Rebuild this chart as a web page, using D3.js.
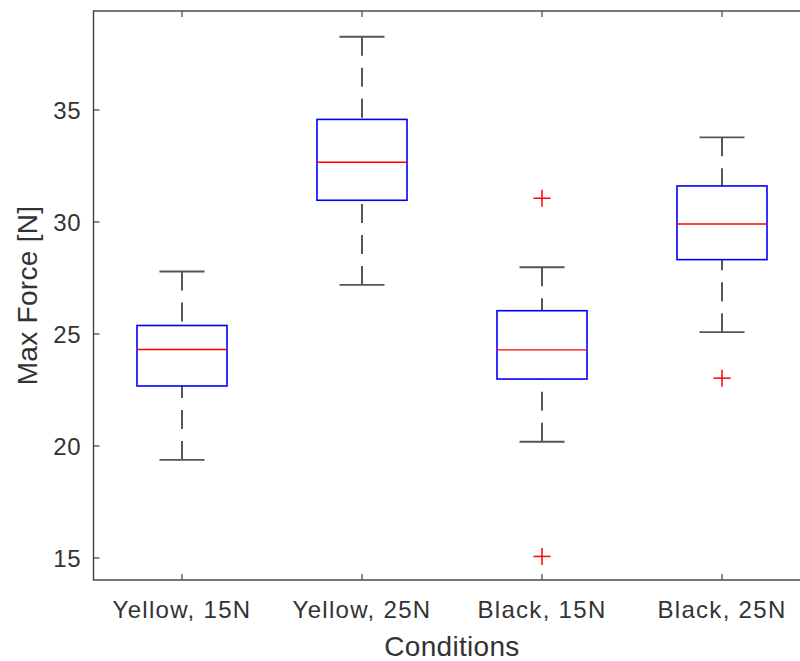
<!DOCTYPE html>
<html>
<head>
<meta charset="utf-8">
<script src="https://cdn.jsdelivr.net/npm/d3@7"></script>
<style>
  html, body { margin: 0; padding: 0; background: #fff; }
  svg { display: block; }
</style>
</head>
<body>
<svg id="chart"></svg>
<script>
// box plot summary per condition
const categories   = ['Yellow, 15N', 'Yellow, 25N', 'Black, 15N', 'Black, 25N'];
const lowerWhisker = [19.38, 27.19, 20.19, 25.08];
const q1           = [22.68, 30.97, 22.99, 28.32];
const median       = [24.31, 32.67, 24.29, 29.91];
const q3           = [25.38, 34.58, 26.04, 31.61];
const upperWhisker = [27.79, 38.27, 27.98, 33.78];
const outliers     = [[], [], [31.06, 15.07], [23.03]];
const yTicks       = [15, 20, 25, 30, 35];

const W = 800, H = 661;
const svg = d3.select('#chart').attr('width', W).attr('height', H);

// axes box (right edge falls outside the picture, like the source)
const x = d3.scaleLinear().domain([0.5, 4.5]).range([92, 812]);
const y = d3.scaleLinear().domain([14.018, 39.42]).range([580, 11]);

const AX = '#404040', TXT = '#333', FONT = 'Helvetica, Arial, "Liberation Sans", sans-serif';

const data = categories.map((c, i) => ({
  i: i + 1, name: c,
  lo: lowerWhisker[i], q1: q1[i], med: median[i], q3: q3[i], hi: upperWhisker[i],
  out: outliers[i],
}));

const boxW = 0.5, capW = 0.25;
const g = svg.append('g');

// whiskers (dashed, starting at the cap)
g.selectAll('line.wu').data(data).join('line').attr('class', 'wu')
  .attr('x1', d => x(d.i)).attr('x2', d => x(d.i))
  .attr('y1', d => y(d.hi)).attr('y2', d => y(d.q3))
  .attr('stroke', '#222').attr('stroke-width', 1.5).attr('stroke-dasharray', '19,12');
g.selectAll('line.wl').data(data).join('line').attr('class', 'wl')
  .attr('x1', d => x(d.i)).attr('x2', d => x(d.i))
  .attr('y1', d => y(d.lo)).attr('y2', d => y(d.q1))
  .attr('stroke', '#222').attr('stroke-width', 1.5).attr('stroke-dasharray', '19,12');

// caps
for (const k of ['hi', 'lo']) {
  g.selectAll('line.cap-' + k).data(data).join('line').attr('class', 'cap-' + k)
    .attr('x1', d => x(d.i - capW / 2)).attr('x2', d => x(d.i + capW / 2))
    .attr('y1', d => y(d[k])).attr('y2', d => y(d[k]))
    .attr('stroke', '#555').attr('stroke-width', 1.8);
}

// boxes
g.selectAll('rect.box').data(data).join('rect').attr('class', 'box')
  .attr('x', d => x(d.i - boxW / 2)).attr('width', d => x(d.i + boxW / 2) - x(d.i - boxW / 2))
  .attr('y', d => y(d.q3)).attr('height', d => y(d.q1) - y(d.q3))
  .attr('fill', 'none').attr('stroke', '#0000ff').attr('stroke-width', 1.6);

// medians
g.selectAll('line.med').data(data).join('line').attr('class', 'med')
  .attr('x1', d => x(d.i - boxW / 2)).attr('x2', d => x(d.i + boxW / 2))
  .attr('y1', d => y(d.med)).attr('y2', d => y(d.med))
  .attr('stroke', '#ff0000').attr('stroke-width', 1.4);

// outliers as '+'
const pts = data.flatMap(d => d.out.map(v => ({ i: d.i, v })));
const plus = g.selectAll('g.out').data(pts).join('g').attr('class', 'out')
  .attr('transform', d => `translate(${x(d.i)},${y(d.v)})`);
plus.append('line').attr('x1', -8.5).attr('x2', 8.5).attr('stroke', '#ff0000').attr('stroke-width', 1.5);
plus.append('line').attr('y1', -8.5).attr('y2', 8.5).attr('stroke', '#ff0000').attr('stroke-width', 1.5);

// axes frame
const [x0, x1] = x.range(), [yb, yt] = y.range();
svg.append('rect').attr('x', x0 + 1.5).attr('y', yt).attr('width', x1 - x0).attr('height', yb - yt)
  .attr('fill', 'none').attr('stroke', AX).attr('stroke-width', 1.4);

// ticks (inward), bottom and top
const ax = svg.append('g');
ax.selectAll('line.tb').data(data).join('line').attr('class', 'tb')
  .attr('x1', d => x(d.i)).attr('x2', d => x(d.i)).attr('y1', yb).attr('y2', yb - 6)
  .attr('stroke', AX).attr('stroke-width', 1.2);
ax.selectAll('line.tt').data(data).join('line').attr('class', 'tt')
  .attr('x1', d => x(d.i)).attr('x2', d => x(d.i)).attr('y1', yt).attr('y2', yt + 6)
  .attr('stroke', AX).attr('stroke-width', 1.2);
ax.selectAll('line.ty').data(yTicks).join('line').attr('class', 'ty')
  .attr('x1', x0 + 1.5).attr('x2', x0 + 7.5).attr('y1', d => y(d)).attr('y2', d => y(d))
  .attr('stroke', AX).attr('stroke-width', 1.2);

// tick labels
ax.selectAll('text.xl').data(data).join('text').attr('class', 'xl')
  .attr('x', d => x(d.i)).attr('y', 618)
  .attr('text-anchor', 'middle').attr('fill', TXT)
  .attr('font-family', FONT).attr('font-size', 24).attr('letter-spacing', 1.3)
  .text(d => d.name);
ax.selectAll('text.yl').data(yTicks).join('text').attr('class', 'yl')
  .attr('x', 81).attr('y', d => y(d)).attr('dy', '0.36em')
  .attr('text-anchor', 'end').attr('fill', TXT)
  .attr('font-family', FONT).attr('font-size', 24).attr('letter-spacing', 0.5)
  .text(d => d);

// axis labels
svg.append('text')
  .attr('x', (x0 + x1) / 2).attr('y', 656)
  .attr('text-anchor', 'middle').attr('fill', TXT)
  .attr('font-family', FONT).attr('font-size', 28).attr('letter-spacing', 0.3)
  .text('Conditions');
svg.append('text')
  .attr('transform', `translate(37,${(yb + yt) / 2}) rotate(-90)`)
  .attr('text-anchor', 'middle').attr('fill', TXT)
  .attr('font-family', FONT).attr('font-size', 28).attr('letter-spacing', 0.3)
  .text('Max Force [N]');
</script>
</body>
</html>
